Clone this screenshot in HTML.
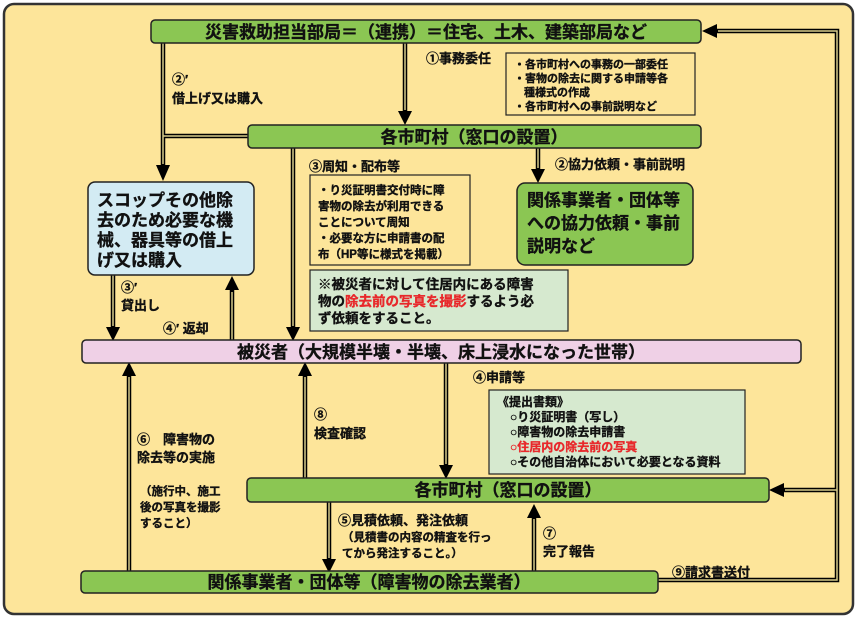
<!DOCTYPE html>
<html><head><meta charset="utf-8">
<style>
html,body{margin:0;padding:0;background:#fff;}
svg{display:block;}
text{font-family:"Liberation Sans","Noto Sans CJK JP",sans-serif;font-weight:bold;fill:#111;stroke:#111;stroke-width:0.35px;}
</style></head>
<body>
<svg width="858" height="618" viewBox="0 0 858 618" xmlns="http://www.w3.org/2000/svg">
<rect x="4" y="4" width="849" height="610" rx="10" fill="#fde59a" stroke="#333" stroke-width="2.5"/>

<g fill="none">
<g stroke="#000" stroke-width="4.5">
<path d="M405,43 V112"/>
<path d="M163,43 V166"/>
<path d="M163,136 H248"/>
<path d="M293,148 V328"/>
<path d="M538,148 V170"/>
<path d="M113,275 V328"/>
<path d="M232,340 V290"/>
<path d="M446,362 V466"/>
<path d="M305,478 V375"/>
<path d="M129,571 V375"/>
<path d="M329,502 V560"/>
<path d="M534,571 V517"/>
<path d="M658,580 H837 V31 H716"/>
<path d="M837,490 H783"/>
</g>
<g stroke="#d8cc8a" stroke-width="1.5">
<path d="M405,43 V110"/>
<path d="M163,43 V164"/>
<path d="M163,136 H248"/>
<path d="M293,148 V326"/>
<path d="M538,148 V168"/>
<path d="M113,275 V326"/>
<path d="M232,340 V292"/>
<path d="M446,362 V464"/>
<path d="M305,478 V377"/>
<path d="M129,571 V377"/>
<path d="M329,502 V558"/>
<path d="M534,571 V519"/>
<path d="M658,580 H837 V31 H718"/>
<path d="M837,490 H785"/>
</g>
</g>
<g fill="#000">
<path d="M398,111 L412,111 L405,125 z"/>
<path d="M156,165 L170,165 L163,181 z"/>
<path d="M286,327 L300,327 L293,341 z"/>
<path d="M531,169 L545,169 L538,183 z"/>
<path d="M106,327 L120,327 L113,341 z"/>
<path d="M225,290 L239,290 L232,276 z"/>
<path d="M439,465 L453,465 L446,479 z"/>
<path d="M298,376 L312,376 L305,362 z"/>
<path d="M122,376 L136,376 L129,362 z"/>
<path d="M322,559 L336,559 L329,573 z"/>
<path d="M527,518 L541,518 L534,504 z"/>
<path d="M717,24 L717,38 L702,31 z"/>
<path d="M784,483 L784,497 L769,490 z"/>
</g>

<rect x="151" y="20" width="550" height="23" rx="4" fill="#8bc653" stroke="#222" stroke-width="1.5"/>
<text x="426" y="38" font-size="17" text-anchor="middle">災害救助担当部局＝（連携）＝住宅、土木、建築部局など</text>

<rect x="248" y="125" width="453" height="23" rx="4" fill="#8bc653" stroke="#222" stroke-width="1.5"/>
<text x="474" y="143" font-size="17" text-anchor="middle">各市町村（窓口の設置）</text>

<rect x="82" y="340" width="719" height="23" rx="4" fill="#efd0e6" stroke="#222" stroke-width="1.5"/>
<text x="441" y="358" font-size="17" text-anchor="middle">被災者（大規模半壊・半壊、床上浸水になった世帯）</text>

<rect x="247" y="478" width="522" height="24" rx="4" fill="#8bc653" stroke="#222" stroke-width="1.5"/>
<text x="508" y="496" font-size="17" text-anchor="middle">各市町村（窓口の設置）</text>

<rect x="81" y="571" width="577" height="22" rx="4" fill="#8bc653" stroke="#222" stroke-width="1.5"/>
<text x="369" y="588" font-size="17" text-anchor="middle">関係事業者・団体等（障害物の除去業者）</text>

<rect x="506" y="53" width="189" height="62" fill="#fde59a" stroke="#222" stroke-width="1.2"/>
<g font-size="11"><text x="514" y="68">・各市町村への事務の一部委任</text>
<text x="514" y="82">・害物の除去に関する申請等各</text>
<text x="524" y="96">種様式の作成</text>
<text x="514" y="110">・各市町村への事前説明など</text></g>

<rect x="88" y="182" width="166" height="93" rx="7" fill="#d3ebf3" stroke="#222" stroke-width="1.5"/>
<g font-size="17"><text x="97" y="206">スコップその他除</text>
<text x="97" y="226">去のため必要な機</text>
<text x="97" y="246">械、器具等の借上</text>
<text x="97" y="266">げ又は購入</text></g>

<rect x="310" y="175" width="160" height="90" fill="#fde59a" stroke="#222" stroke-width="1.2"/>
<g font-size="11.5"><text x="318" y="194">・り災証明書交付時に障</text>
<text x="318" y="210">害物の除去が利用できる</text>
<text x="318" y="226">ことについて周知</text>
<text x="318" y="242">・必要な方に申請書の配</text>
<text x="318" y="258">布（HP等に様式を掲載）</text></g>

<rect x="310" y="270" width="258" height="61" fill="#d6e9cf" stroke="#222" stroke-width="1.2"/>
<g font-size="13.5"><text x="318" y="289">※被災者に対して住居内にある障害</text>
<text x="318" y="306">物の<tspan style="fill:#e8282b;stroke:#e8282b">除去前の写真を撮影</tspan>するよう必</text>
<text x="318" y="323">ず依頼をすること。</text></g>

<rect x="517" y="183" width="176" height="82" rx="8" fill="#8bc653" stroke="#222" stroke-width="1.5"/>
<g font-size="17"><text x="527" y="206">関係事業者・団体等</text>
<text x="527" y="229">への協力依頼・事前</text>
<text x="527" y="252">説明など</text></g>

<rect x="489" y="390" width="256" height="84" fill="#d6e9cf" stroke="#222" stroke-width="1.2"/>
<g font-size="12"><text x="497" y="406">《提出書類》</text>
<text x="510" y="421">○り災証明書（写し）</text>
<text x="510" y="436">○障害物の除去申請書</text>
<text x="510" y="451" style="fill:#e8282b;stroke:#e8282b">○住居内の除去前の写真</text>
<text x="510" y="466">○その他自治体において必要となる資料</text></g>

<g font-size="13">
<text x="426" y="63">①事務委任</text>
<text x="172" y="84">②′</text>
<text x="172" y="103">借上げ又は購入</text>
<text x="309" y="171">③周知・配布等</text>
<text x="555" y="169">②協力依頼・事前説明</text>
<text x="121" y="292">③′</text>
<text x="121" y="310">貸出し</text>
<text x="163" y="333">④′ 返却</text>
<text x="473" y="382">④申請等</text>
<text x="314" y="419">⑧</text>
<text x="314" y="438">検査確認</text>
<text x="137" y="444">⑥　障害物の</text>
<text x="137" y="462">除去等の実施</text>
<text x="338" y="525">⑤見積依頼、発注依頼</text>
<text x="543" y="538">⑦</text>
<text x="543" y="556">完了報告</text>
<text x="672" y="577">⑨請求書送付</text>
</g>
<g font-size="11.5">
<text x="140" y="495">（施行中、施工</text>
<text x="140" y="511">後の写真を撮影</text>
<text x="140" y="527">すること）</text>
<text x="342" y="541">（見積書の内容の精査を行っ</text>
<text x="342" y="557">てから発注すること。）</text>
</g>
</svg>
</body></html>
